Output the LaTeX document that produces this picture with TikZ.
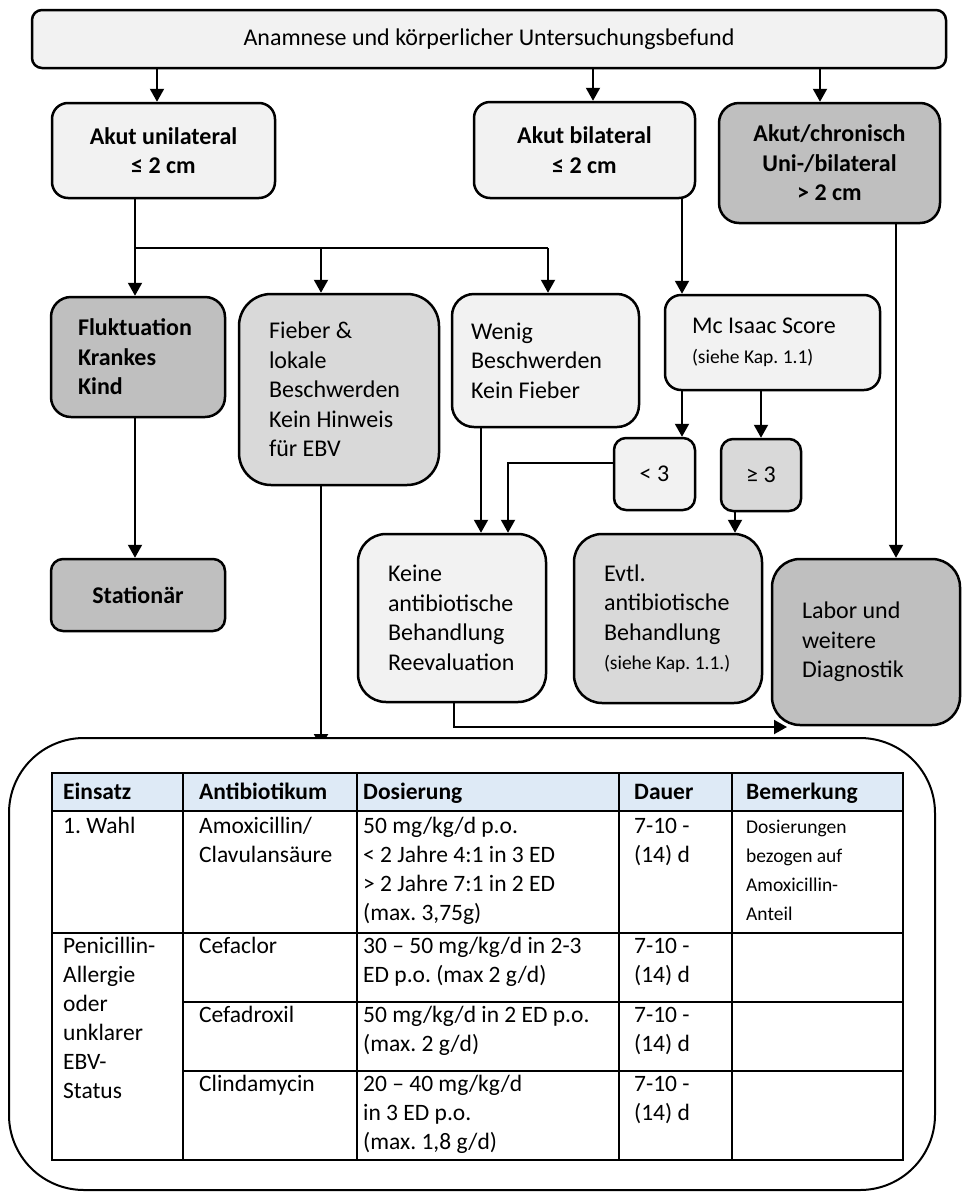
\documentclass[tikz,border=0pt]{standalone}
\usepackage{fontspec}
\setmainfont{Carlito}
\usetikzlibrary{arrows.meta,calc}
\definecolor{gLight}{HTML}{F2F2F2}
\definecolor{gMid}{HTML}{D9D9D9}
\definecolor{gDark}{HTML}{BFBFBF}
\definecolor{hdrBlue}{HTML}{DEEAF6}
\newcommand{\fsz}[2]{\fontsize{#1}{#2}\selectfont}
\frenchspacing

\begin{document}
\begin{tikzpicture}[x=1pt,y=-1pt,
  box/.style={draw=black, line width=2.5pt, inner ysep=0pt, font=\fsz{24}{29.5}},
  ctr/.style={align=center, inner xsep=0pt},
  lft/.style 2 args={align=flush left, inner xsep=#2, text width=#1-2*#2},
  bld/.style={font=\fsz{24}{29.5}\bfseries},
  link/.style={line width=2pt},
  arr/.style={line width=2pt, -{Triangle[length=13pt,width=14pt]}},
  cell/.style={anchor=north west, inner sep=0pt, align=left, font=\fsz{23.5}{29}},
  cellhd/.style={cell, font=\fsz{23.5}{29}\bfseries},
  cellsm/.style={cell, font=\fsz{19.5}{29}},
  grid/.style={line width=2pt}]

\useasboundingbox (0,0) rectangle (966,1192);

% ---------- flowchart boxes ----------
\node[box, ctr, fill=gLight, rounded corners=10pt, minimum width=914pt, minimum height=58pt]
  (top) at (489,39) {Anamnese und körperlicher Untersuchungsbefund};

\node[box, ctr, bld, fill=gLight, rounded corners=16pt, minimum width=223pt, minimum height=95pt]
  (akutuni) at (163.5,150.5) {Akut unilateral\\≤ 2 cm};
\node[box, ctr, bld, fill=gLight, rounded corners=16pt, minimum width=221pt, minimum height=96pt]
  (akutbi) at (584.5,150) {Akut bilateral\\≤ 2 cm};
\node[box, ctr, bld, fill=gDark, rounded corners=20pt, minimum width=221pt, minimum height=120pt]
  (akutchr) at (829.5,163) {Akut/chronisch\\Uni-/bilateral\\> 2 cm};

\node[box, lft={174pt}{27pt}, bld, fill=gDark, rounded corners=20pt, minimum height=120pt]
  (fluk) at (138,357) {Fluktuation\\Krankes\\Kind};
\node[box, lft={200pt}{30pt}, fill=gMid, rounded corners=32pt, minimum height=191pt]
  (fieber) at (339,389.5) {Fieber \&\\lokale\\Beschwerden\\Kein Hinweis\\für EBV};
\node[box, lft={187pt}{19pt}, fill=gLight, rounded corners=22pt, minimum height=133pt]
  (wenig) at (545.5,360.5) {Wenig\\Beschwerden\\Kein Fieber};
\node[box, lft={215pt}{27pt}, fill=gLight, rounded corners=16pt, minimum height=95pt]
  (mcisaac) at (772.5,342.5) {Mc Isaac Score\\{\fsz{19.5}{28}(siehe Kap. 1.1)}};

\node[box, ctr, fill=gLight, rounded corners=12pt, minimum width=81pt, minimum height=72pt]
  (lt3) at (654.5,474) {< 3};
\node[box, ctr, fill=gMid, rounded corners=12pt, minimum width=80pt, minimum height=72pt]
  (ge3) at (761,475) {≥ 3};

\node[box, ctr, bld, fill=gDark, rounded corners=12pt, minimum width=174pt, minimum height=72pt]
  (stat) at (138,595) {Stationär};
\node[box, lft={188pt}{30pt}, fill=gLight, rounded corners=28pt, minimum height=168pt]
  (keine) at (452,618) {Keine\\antibiotische\\Behandlung\\Reevaluation};
\node[box, lft={188pt}{30pt}, fill=gMid, rounded corners=28pt, minimum height=169pt]
  (evtl) at (668,618.5) {Evtl.\\antibiotische\\Behandlung\\{\fsz{19.5}{27}\mbox{(siehe Kap. 1.1.)}}};
\node[box, lft={188pt}{30pt}, fill=gDark, rounded corners=28pt, minimum height=166pt]
  (labor) at (866,642) {Labor und\\weitere\\Diagnostik};

% ---------- connector columns and rows ----------
\coordinate (cA) at (157,0);
\coordinate (cB) at (593,0);
\coordinate (cC) at (820,0);
\coordinate (cD) at (135,0);
\coordinate (cE) at (321,0);
\coordinate (cF) at (548,0);
\coordinate (cG) at (682,0);
\coordinate (cH) at (761,0);
\coordinate (cI) at (508,0);
\coordinate (cJ) at (481,0);
\coordinate (cK) at (735,0);
\coordinate (cL) at (896,0);
\coordinate (cM) at (454,0);
\coordinate (branch) at (0,248);
\coordinate (lowrow) at (0,463);
\coordinate (tabtip) at (321,747);
\coordinate (labtip) at (787,727);

\draw[arr] (top.south -| cA) -- (akutuni.north -| cA);
\draw[arr] (top.south -| cB) -- (akutbi.north -| cB);
\draw[arr] (top.south -| cC) -- (akutchr.north -| cC);

\draw[link] (akutuni.south -| cD) -- (branch -| cD) -- (branch -| cF);
\draw[arr] (branch -| cD) -- (fluk.north -| cD);
\draw[arr] (branch -| cE) -- (fieber.north -| cE);
\draw[arr] (branch -| cF) -- (wenig.north -| cF);

\draw[arr] (akutbi.south -| cG) -- (mcisaac.north -| cG);
\draw[arr] (mcisaac.south -| cG) -- (lt3.north -| cG);
\draw[arr] (mcisaac.south -| cH) -- (ge3.north -| cH);
\draw[arr] (lt3.west |- lowrow) -| (keine.north -| cI);
\draw[arr] (wenig.south -| cJ) -- (keine.north -| cJ);
\draw[arr] (ge3.south -| cK) -- (evtl.north -| cK);
\draw[arr] (akutchr.south -| cL) -- (labor.north -| cL);
\draw[arr] (fluk.south -| cD) -- (stat.north -| cD);
\draw[arr] (keine.south -| cM) |- (labtip);
\draw[arr] (fieber.south -| cE) -- (tabtip);

% ---------- therapy table frame ----------
\node[draw=black, line width=2pt, fill=white, rounded corners=75pt, inner sep=0pt,
  minimum width=926pt, minimum height=452pt] (tabbox) at (472,964) {};

% table grid
\fill[hdrBlue] (52,773) rectangle (903,811);
\draw[grid] (52,773) rectangle (903,1160);
\draw[grid] (183,773) -- (183,1160);
\draw[grid] (357,773) -- (357,1160);
\draw[grid] (619,773) -- (619,1160);
\draw[grid] (732,773) -- (732,1160);
\draw[grid] (52,811) -- (903,811);
\draw[grid] (52,933) -- (903,933);
\draw[grid] (183,1002) -- (903,1002);
\draw[grid] (183,1071) -- (903,1071);

% header row
\node[cellhd] (h1) at (63,779) {\strut Einsatz};
\node[cellhd] (h2) at (199,779) {\strut Antibiotikum};
\node[cellhd] (h3) at (363,779) {\strut Dosierung};
\node[cellhd] (h4) at (634,779) {\strut Dauer};
\node[cellhd] (h5) at (746,779) {\strut Bemerkung};

% first choice
\node[cell] (r1a) at (63,813) {\strut 1. Wahl};
\node[cell] (r1b) at (199,813) {\strut Amoxicillin/\\Clavulansäure};
\node[cell] (r1c) at (363,813) {\strut 50 mg/kg/d p.o.\\< 2 Jahre 4:1 in 3 ED\\> 2 Jahre 7:1 in 2 ED\\(max. 3,75g)};
\node[cell] (r1d) at (634,813) {\strut 7-10 -\\(14) d};
\node[cellsm] (r1e) at (746,813) {\strut Dosierungen\\bezogen auf\\Amoxicillin-\\Anteil};

% alternatives
\node[cell] (r2a) at (63,933) {\strut Penicillin-\\Allergie\\oder\\unklarer\\EBV-\\Status};
\node[cell] (r2b) at (199,933) {\strut Cefaclor};
\node[cell] (r2c) at (363,933) {\strut 30 – 50 mg/kg/d in 2-3\\ED p.o. (max 2 g/d)};
\node[cell] (r2d) at (634,933) {\strut 7-10 -\\(14) d};

\node[cell] (r3b) at (199,1002) {\strut Cefadroxil};
\node[cell] (r3c) at (363,1002) {\strut 50 mg/kg/d in 2 ED p.o.\\(max. 2 g/d)};
\node[cell] (r3d) at (634,1002) {\strut 7-10 -\\(14) d};

\node[cell] (r4b) at (199,1071) {\strut Clindamycin};
\node[cell] (r4c) at (363,1071) {\strut 20 – 40 mg/kg/d\\in 3 ED p.o.\\(max. 1,8 g/d)};
\node[cell] (r4d) at (634,1071) {\strut 7-10 -\\(14) d};

\end{tikzpicture}
\end{document}
